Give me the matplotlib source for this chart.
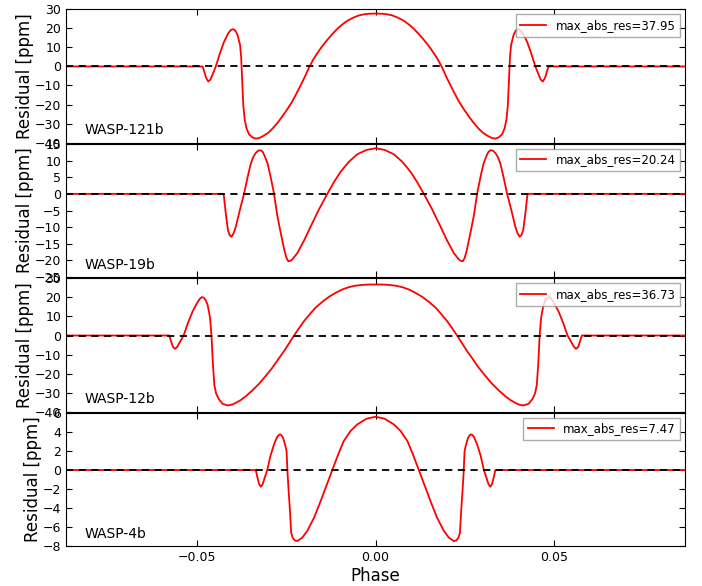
import matplotlib
matplotlib.use('Agg')
import matplotlib.pyplot as plt
from matplotlib.ticker import MultipleLocator

planets = ['WASP-121b', 'WASP-19b', 'WASP-12b', 'WASP-4b']
max_abs_res = [37.95, 20.24, 36.73, 7.47]
ylims = [(-40, 30), (-25, 15), (-40, 30), (-8, 6)]
ysteps = [10, 5, 10, 2]
xticks = [-0.05, 0.0, 0.05]

# residual curves (phase, ppm)
phase_121 = ([-0.0866, -0.0484, -0.0480, -0.0474, -0.0468, -0.0462, -0.0455, -0.0447, -0.0436, -0.0424,
              -0.0412, -0.0404, -0.0398, -0.0392, -0.0386, -0.0379, -0.0376, -0.0373, -0.0370, -0.0366,
              -0.0361, -0.0354, -0.0345, -0.0335, -0.0324, -0.0312, -0.0300, -0.0289, -0.0275, -0.0261,
              -0.0247, -0.0233, -0.0221, -0.0209, -0.0197, -0.0186, -0.0175, -0.0163, -0.0149, -0.0135,
              -0.0121, -0.0107, -0.0093, -0.0079, -0.0063, -0.0047, -0.0033, -0.0019, 0.0]
             + [0.0019, 0.0033, 0.0047, 0.0063, 0.0079, 0.0093, 0.0107, 0.0121, 0.0135, 0.0149,
                0.0163, 0.0175, 0.0186, 0.0197, 0.0209, 0.0221, 0.0233, 0.0247, 0.0261, 0.0275,
                0.0289, 0.0300, 0.0312, 0.0324, 0.0335, 0.0345, 0.0354, 0.0361, 0.0366, 0.0370,
                0.0373, 0.0376, 0.0379, 0.0386, 0.0392, 0.0398, 0.0404, 0.0412, 0.0424, 0.0436,
                0.0447, 0.0455, 0.0462, 0.0468, 0.0474, 0.0480, 0.0484, 0.0866])
res_121 = ([0, 0, -2.2, -6.0, -7.9, -6.9, -3.8, 0, 6.5, 12.9,
            17.5, 19.3, 19.6, 18.8, 16.5, 11.2, 5.0, -8.0, -20.4, -28.0,
            -32.5, -35.6, -37.2, -37.95, -37.5, -36.3, -34.8, -32.8, -29.8, -26.3,
            -22.5, -18.4, -14.1, -9.7, -5.1, -0.5, 3.4, 7.0, 10.7, 14.0,
            17.0, 19.8, 22.1, 24.0, 25.6, 26.8, 27.4, 27.7, 27.8]
           + [27.7, 27.4, 26.8, 25.6, 24.0, 22.1, 19.8, 17.0, 14.0, 10.7,
              7.0, 3.4, -0.5, -5.1, -9.7, -14.1, -18.4, -22.5, -26.3, -29.8,
              -32.8, -34.8, -36.3, -37.5, -37.95, -37.2, -35.6, -32.5, -28.0, -20.4,
              -8.0, 5.0, 11.2, 16.5, 18.8, 19.6, 19.3, 17.5, 12.9, 6.5,
              0, -3.8, -6.9, -7.9, -6.0, -2.2, 0, 0])

phase_19 = ([-0.0866, -0.0425, -0.0422, -0.0419, -0.0413, -0.0408, -0.0403, -0.0397, -0.0391, -0.0380,
             -0.0368, -0.0358, -0.0349, -0.0342, -0.0335, -0.0328, -0.0321, -0.0315, -0.0310, -0.0302,
             -0.0293, -0.0284, -0.0275, -0.0265, -0.0255, -0.0249, -0.0244, -0.0238, -0.0232, -0.0219,
             -0.0200, -0.0182, -0.0158, -0.0135, -0.0116, -0.0098, -0.0075, -0.0051, -0.0025, 0.0]
            + [0.0025, 0.0051, 0.0075, 0.0098, 0.0116, 0.0135, 0.0158, 0.0182, 0.0200, 0.0219,
               0.0232, 0.0238, 0.0244, 0.0249, 0.0255, 0.0265, 0.0275, 0.0284, 0.0293, 0.0302,
               0.0310, 0.0315, 0.0321, 0.0328, 0.0335, 0.0342, 0.0349, 0.0358, 0.0368, 0.0380,
               0.0391, 0.0397, 0.0403, 0.0408, 0.0413, 0.0419, 0.0422, 0.0425, 0.0866])
res_19 = ([0, 0, -3.0, -5.9, -10.9, -12.4, -12.9, -11.8, -9.9, -5.0,
           0, 5.0, 9.1, 11.1, 12.3, 13.0, 13.1, 12.5, 11.3, 9.1,
           4.8, 0, -6.5, -11.9, -17.0, -19.3, -20.24, -20.1, -19.6, -17.8,
           -14.0, -9.9, -4.6, 0, 3.6, 6.6, 9.6, 11.9, 13.2, 13.7]
          + [13.2, 11.9, 9.6, 6.6, 3.6, 0, -4.6, -9.9, -14.0, -17.8,
             -19.6, -20.1, -20.24, -19.3, -17.0, -11.9, -6.5, 0, 4.8, 9.1,
             11.3, 12.5, 13.1, 13.0, 12.3, 11.1, 9.1, 5.0, 0, -5.0,
             -9.9, -11.8, -12.9, -12.4, -10.9, -5.9, -3.0, 0, 0])

phase_12 = ([-0.0866, -0.0577, -0.0573, -0.0567, -0.0561, -0.0555, -0.0547, -0.0537, -0.0525, -0.0512,
             -0.0498, -0.0491, -0.0486, -0.0481, -0.0475, -0.0470, -0.0466, -0.0463, -0.0459, -0.0455,
             -0.0451, -0.0446, -0.0439, -0.0428, -0.0414, -0.0401, -0.0391, -0.0377, -0.0363, -0.0345,
             -0.0326, -0.0308, -0.0289, -0.0273, -0.0256, -0.0242, -0.0228, -0.0214, -0.0200, -0.0184,
             -0.0168, -0.0149, -0.0130, -0.0111, -0.0093, -0.0075, -0.0056, -0.0037, -0.0019, 0.0]
            + [0.0019, 0.0037, 0.0056, 0.0075, 0.0093, 0.0111, 0.0130, 0.0149, 0.0168, 0.0184,
               0.0200, 0.0214, 0.0228, 0.0242, 0.0256, 0.0273, 0.0289, 0.0308, 0.0326, 0.0345,
               0.0363, 0.0377, 0.0391, 0.0401, 0.0414, 0.0428, 0.0439, 0.0446, 0.0451, 0.0455,
               0.0459, 0.0463, 0.0466, 0.0470, 0.0475, 0.0481, 0.0486, 0.0491, 0.0498, 0.0512,
               0.0525, 0.0537, 0.0547, 0.0555, 0.0561, 0.0567, 0.0573, 0.0577, 0.0866])
res_12 = ([0, 0, -2.5, -5.9, -7.0, -6.0, -3.3, 0, 6.5, 12.6,
           17.5, 19.4, 20.2, 19.9, 18.5, 16.2, 12.5, 9.1, 0, -15.0,
           -26.0, -30.5, -33.3, -35.9, -36.73, -36.3, -35.4, -33.9, -31.9, -28.9,
           -25.4, -21.4, -17.0, -12.7, -8.2, -4.1, 0, 3.9, 7.6, 11.2,
           14.6, 17.7, 20.4, 22.5, 24.2, 25.4, 26.2, 26.6, 26.8, 26.8]
          + [26.8, 26.6, 26.2, 25.4, 24.2, 22.5, 20.4, 17.7, 14.6, 11.2,
             7.6, 3.9, 0, -4.1, -8.2, -12.7, -17.0, -21.4, -25.4, -28.9,
             -31.9, -33.9, -35.4, -36.3, -36.73, -35.9, -33.3, -30.5, -26.0, -15.0,
             0, 9.1, 12.5, 16.2, 18.5, 19.9, 20.2, 19.4, 17.5, 12.6,
             6.5, 0, -3.3, -6.0, -7.0, -5.9, -2.5, 0, 0])

phase_4 = ([-0.0866, -0.0335, -0.0331, -0.0326, -0.0321, -0.0316, -0.0310, -0.0303, -0.0294, -0.0284,
            -0.0275, -0.0270, -0.0267, -0.0263, -0.0259, -0.0256, -0.0252, -0.0249, -0.0246, -0.0243,
            -0.0240, -0.0236, -0.0232, -0.0226, -0.0219, -0.0205, -0.0191, -0.0172, -0.0154, -0.0137,
            -0.0121, -0.0105, -0.0089, -0.0070, -0.0051, -0.0025, 0.0]
           + [0.0025, 0.0051, 0.0070, 0.0089, 0.0105, 0.0121, 0.0137, 0.0154, 0.0172, 0.0191,
              0.0205, 0.0219, 0.0226, 0.0232, 0.0236, 0.0240, 0.0243, 0.0246, 0.0249, 0.0252,
              0.0256, 0.0259, 0.0263, 0.0267, 0.0270, 0.0275, 0.0284, 0.0294, 0.0303, 0.0310,
              0.0316, 0.0321, 0.0326, 0.0331, 0.0335, 0.0866])
res_4 = ([0, 0, -0.7, -1.45, -1.76, -1.5, -0.8, 0, 1.5, 2.7,
          3.5, 3.7, 3.75, 3.65, 3.4, 3.05, 2.5, 2.0, -0.5, -2.3,
          -3.97, -6.6, -7.1, -7.4, -7.47, -7.1, -6.4, -5.0, -3.3, -1.6,
          0, 1.6, 3.05, 4.1, 4.8, 5.4, 5.6]
         + [5.4, 4.8, 4.1, 3.05, 1.6, 0, -1.6, -3.3, -5.0, -6.4,
            -7.1, -7.47, -7.4, -7.1, -6.6, -3.97, -2.3, -0.5, 2.0, 2.5,
            3.05, 3.4, 3.65, 3.75, 3.7, 3.5, 2.7, 1.5, 0, -0.8,
            -1.5, -1.76, -1.45, -0.7, 0, 0])

phases = [phase_121, phase_19, phase_12, phase_4]
residuals = [res_121, res_19, res_12, res_4]

plt.rcParams['xtick.direction'] = 'in'
plt.rcParams['ytick.direction'] = 'in'
plt.rcParams['xtick.top'] = True
plt.rcParams['ytick.right'] = True
plt.rcParams['xtick.major.size'] = 4
plt.rcParams['ytick.major.size'] = 4

fig, axes = plt.subplots(4, 1, sharex=True, figsize=(7.02, 5.86), dpi=100)
fig.subplots_adjust(left=0.094, right=0.976, top=0.984, bottom=0.068, hspace=0.01)

for i, ax in enumerate(axes):
    ax.plot(phases[i], residuals[i], color='red', lw=1.3,
            label='max_abs_res=%.2f' % max_abs_res[i])
    ax.axhline(0, color='black', ls='--', lw=1.3, dashes=(4, 3))
    ax.set_ylim(*ylims[i])
    ax.yaxis.set_major_locator(MultipleLocator(ysteps[i]))
    ax.set_xlim(-0.0866, 0.0866)
    ax.set_xticks(xticks)
    ax.tick_params(labelsize=9)
    ax.set_ylabel('Residual [ppm]', fontsize=12, labelpad=0.5)
    ax.text(0.03, 0.04, planets[i], transform=ax.transAxes, fontsize=10,
            ha='left', va='bottom')
    leg = ax.legend(loc='upper right', fontsize=8.5, fancybox=False,
                    borderaxespad=0.4, handlelength=2.2)
    leg.get_frame().set_edgecolor('0.6')

axes[-1].set_xlabel('Phase', fontsize=12, labelpad=2)

plt.savefig('out.png', dpi=100)
